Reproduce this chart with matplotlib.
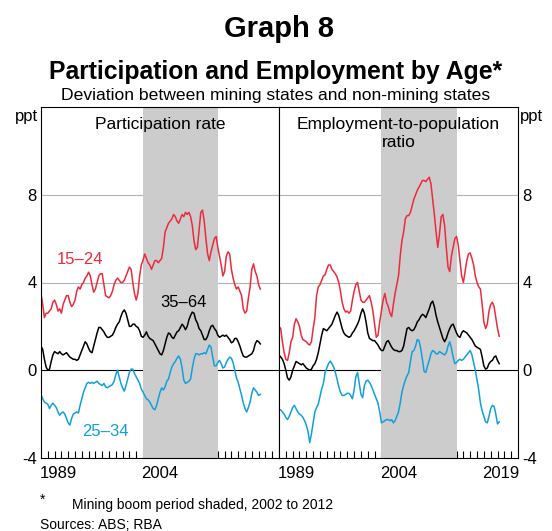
#!/usr/bin/env python3

"""
Graph 8: participation and employment by age, mining vs non-mining states.
"""

import numpy as np
import matplotlib
matplotlib.use("Agg")
import matplotlib.pyplot as plt

plt.rcParams['font.family'] = ['Liberation Sans', 'DejaVu Sans']
plt.rcParams['axes.unicode_minus'] = False

RED = '#ee2a3d'
BLUE = '#12a0dc'
SHADE = '#cccccc'

# quarterly observations, 1987 Q1 to 2019 Q2
years = np.arange(1987.0, 2019.5, 0.25)

# Participation rate (ppt deviation)
part_15_24 = [
    3.5, 3.0, 2.4, 2.6,
    2.6, 2.7, 2.8, 3.1,
    3.2, 3.0, 2.7, 2.8,
    2.6, 3.0, 3.2, 3.4,
    3.4, 3.1, 2.9, 3.0,
    3.2, 3.6, 3.8, 3.7,
    3.9, 4.0, 4.2, 4.3,
    4.47, 4.3, 3.9, 3.56,
    3.7, 4.0, 4.3, 4.4,
    4.4, 3.9, 3.4, 3.35,
    3.3, 3.4, 3.6, 3.9,
    4.1, 4.2, 4.1, 4.0,
    4.0, 4.1, 4.3, 4.5,
    4.7, 4.6, 4.0, 3.5,
    3.2, 3.5, 4.3, 4.8,
    5.0, 5.3, 5.1, 4.9,
    4.8, 4.6, 4.8, 5.0,
    5.0, 4.9, 5.0, 5.1,
    5.6, 6.3, 6.5, 6.7,
    6.8, 6.9, 7.1, 7.0,
    6.8, 6.7, 6.9, 7.1,
    7.0, 7.2, 7.1, 7.2,
    7.0, 6.6, 5.9, 5.5,
    5.6, 6.4, 7.2, 7.3,
    6.8, 6.0, 5.3, 5.0,
    5.4, 5.7, 6.0, 6.1,
    5.6, 5.2, 4.8, 4.3,
    4.5, 5.2, 5.4, 5.3,
    4.6, 4.2, 3.9, 3.7,
    3.8, 3.6, 3.4, 2.8,
    2.6, 2.7, 3.3, 3.8,
    4.6, 4.85, 4.5, 4.3,
    3.9, 3.7,
]
part_25_34 = [
    -1.1, -1.3, -1.45, -1.5,
    -1.55, -1.75, -1.6, -1.5,
    -1.6, -1.7, -1.9, -2.05,
    -1.95, -1.9, -2.0, -2.2,
    -2.4, -2.5, -2.2, -2.0,
    -1.95, -1.9, -1.95, -1.6,
    -1.3, -1.0, -0.8, -0.6,
    -0.55, -0.6, -0.55, -0.6,
    -0.55, -0.5, -0.6, -0.65,
    -0.7, -0.6, -0.75, -0.8,
    -0.75, -0.7, -0.65, -0.5,
    -0.2, 0.0, -0.3, -0.6,
    -0.8, -0.95, -0.7, -0.4,
    -0.1, 0.05, 0.05, -0.15,
    -0.3, -0.45, -0.6, -0.85,
    -1.0, -1.15, -1.3, -1.35,
    -1.45, -1.6, -1.75, -1.8,
    -1.6, -1.3, -1.0, -0.8,
    -0.9, -0.75, -0.5, -0.4,
    -0.1, 0.15, 0.3, 0.4,
    0.55, 0.65, 0.5, 0.1,
    -0.45, -0.6, -0.55, -0.5,
    -0.4, 0.1, 0.5, 0.75,
    0.75, 0.7, 0.75, 0.75,
    0.8, 0.75, 0.95, 1.15,
    1.05, 0.6, 0.2, 0.2,
    0.35, 0.45, 0.3, 0.1,
    0.15, 0.35, 0.5, 0.6,
    0.55, 0.35, 0.0, -0.35,
    -0.55, -0.85, -1.15, -1.5,
    -1.75, -1.9, -1.7, -1.45,
    -1.05, -0.8, -0.9, -1.0,
    -1.15, -1.1,
]
part_35_64 = [
    1.1, 0.95, 0.5, 0.15,
    0.0, 0.05, 0.4, 0.7,
    0.85, 0.8, 0.75, 0.85,
    0.75, 0.7, 0.75, 0.8,
    0.7, 0.6, 0.55, 0.5,
    0.5, 0.45, 0.5, 0.7,
    0.9, 1.1, 1.3, 1.2,
    1.0, 0.85, 0.8, 1.1,
    1.4, 1.7, 1.95, 1.95,
    1.85, 1.75, 1.6, 1.5,
    1.5, 1.55, 1.6, 1.75,
    1.95, 2.1, 2.2, 2.45,
    2.65, 2.75, 2.6, 2.3,
    2.0, 2.0, 2.1, 2.1,
    2.0, 1.95, 1.8, 1.55,
    1.5, 1.6, 1.75, 1.55,
    1.45, 1.4, 1.35, 1.2,
    1.05, 0.9, 0.75, 0.7,
    0.9, 1.2, 1.5, 1.7,
    1.65, 1.5, 1.45, 1.6,
    1.75, 1.8, 1.95, 2.1,
    2.0, 1.85, 2.0, 2.3,
    2.5, 2.65, 2.6, 2.3,
    2.15, 1.9, 1.8, 1.6,
    1.4, 1.4, 1.55, 1.8,
    2.0, 2.05, 1.9, 1.8,
    1.6, 1.5, 1.55, 1.6,
    1.55, 1.6, 1.5, 1.4,
    1.25, 1.3, 1.45, 1.45,
    1.3, 1.1, 0.85, 0.65,
    0.6, 0.6, 0.65, 0.7,
    0.75, 0.9, 1.2, 1.35,
    1.3, 1.2,
]

# Employment-to-population ratio (ppt deviation)
emp_15_24 = [
    2.0, 1.9, 1.3, 0.8,
    0.5, 0.45, 0.8, 1.3,
    1.5, 2.1, 2.35, 2.2,
    2.0, 1.6, 1.4, 1.35,
    1.3, 1.2, 1.15, 1.3,
    1.9, 2.4, 3.4, 3.8,
    3.9, 4.1, 4.3, 4.35,
    4.6, 4.8, 4.8, 4.6,
    4.5, 4.4, 4.25, 4.0,
    3.6, 3.1, 2.8, 2.65,
    2.7, 2.6, 2.7, 3.2,
    3.6, 3.9, 4.0, 3.6,
    3.2, 3.1, 3.1, 3.2,
    3.3, 3.4, 3.1, 2.7,
    2.1, 1.5, 1.6, 2.2,
    2.7, 3.2, 3.5, 3.1,
    2.9, 2.6, 2.45, 3.0,
    3.5, 3.9, 4.3, 5.2,
    5.9, 6.3, 6.9, 7.05,
    7.05, 7.2, 7.5, 7.8,
    8.0, 8.2, 8.35, 8.5,
    8.65, 8.65, 8.6, 8.7,
    8.8, 8.5, 7.8, 7.1,
    6.3, 5.6, 6.2, 7.0,
    7.1, 6.6, 5.6, 4.7,
    4.5, 5.2, 5.6, 6.0,
    6.1, 5.7, 5.0, 4.3,
    4.0, 4.5, 5.0, 5.3,
    5.35, 5.1, 4.8, 4.3,
    4.0, 3.8, 3.7, 3.0,
    2.2, 1.9, 2.1, 2.7,
    3.0, 3.1, 2.9, 2.4,
    1.9, 1.55,
]
emp_25_34 = [
    -1.8, -1.8, -1.9, -2.0,
    -2.15, -2.25, -2.1, -1.9,
    -1.7, -1.6, -1.75, -1.9,
    -2.0, -2.05, -2.15, -2.3,
    -2.5, -2.8, -3.3, -2.9,
    -2.4, -1.9, -1.7, -1.55,
    -1.2, -0.85, -0.6, -0.1,
    0.1, 0.3, 0.42, 0.3,
    0.15, -0.1, -0.4, -0.75,
    -1.0, -1.15, -1.15, -1.1,
    -1.05, -1.05, -1.15, -1.3,
    -0.9, -0.3, -0.1, -0.6,
    -1.1, -1.25, -0.7, -0.5,
    -0.45, -0.55, -0.7, -0.9,
    -1.1, -1.3, -1.5, -1.9,
    -2.4, -2.35, -2.3, -2.25,
    -2.25, -2.3, -2.25, -2.4,
    -2.3, -2.1, -1.9, -1.5,
    -1.0, -0.7, -0.45, -0.25,
    -0.1, 0.4, 0.85, 0.9,
    1.1, 1.4, 1.35, 1.0,
    0.5, -0.05, -0.1, 0.2,
    0.45, 0.75, 0.9, 0.85,
    0.75, 0.75, 0.85, 0.8,
    0.75, 0.7, 0.8, 1.1,
    1.3, 1.0, 0.6, 0.3,
    0.35, 0.45, 0.5, 0.45,
    0.5, 0.6, 0.7, 0.8,
    0.9, 0.7, 0.35, 0.0,
    -0.45, -0.9, -1.5, -1.85,
    -2.1, -2.35, -2.4, -2.1,
    -1.75, -1.6, -1.65, -2.0,
    -2.45, -2.35,
]
emp_35_64 = [
    0.7, 0.6, 0.5, 0.3,
    0.0, -0.35, -0.45, -0.3,
    0.0, 0.2, 0.4, 0.35,
    0.3, 0.25, 0.3, 0.2,
    0.1, 0.05, 0.0, 0.05,
    0.2, 0.3, 0.5, 0.8,
    1.2, 1.6, 1.9, 1.85,
    1.8, 1.9, 2.0, 2.1,
    2.3, 2.5, 2.65, 2.5,
    2.2, 1.9, 1.7, 1.6,
    1.55, 1.5, 1.55, 1.7,
    1.8, 1.95, 2.1, 2.3,
    2.6, 2.8, 2.6, 2.2,
    1.7, 1.45, 1.4, 1.35,
    1.35, 1.25, 1.15, 1.0,
    0.9, 0.9, 1.1, 1.3,
    1.35, 1.2, 1.05, 0.95,
    0.9, 0.9, 0.85, 0.85,
    0.9, 1.1, 1.5, 1.9,
    1.95, 1.85, 1.8, 1.85,
    2.0, 2.2, 2.3, 2.45,
    2.55, 2.5, 2.4, 2.6,
    2.8, 3.05, 3.15, 2.9,
    2.5, 2.2, 1.95, 1.7,
    1.45, 1.3, 1.45, 1.7,
    1.9, 2.05, 2.1, 1.9,
    1.7, 1.55, 1.5, 1.7,
    1.8, 1.75, 1.7, 1.6,
    1.5, 1.4, 1.25, 1.1,
    1.05, 1.0, 0.95, 0.6,
    0.2, 0.05, 0.1, 0.3,
    0.4, 0.45, 0.6, 0.65,
    0.45, 0.3,
]

boom = (2002, 2013)
yticks = [-4, 0, 4, 8]


def _panel(ax, title, series, xlabels, side):
    ax.set_xlim(1987, 2022)
    ax.set_ylim(-4, 12)

    ax.axvspan(*boom, color=SHADE, lw=0, zorder=2)
    for y in (4, 8):
        ax.axhline(y, color='#b3b3b3', lw=0.8, zorder=1)
    ax.axhline(0, color='black', lw=0.8, zorder=1)

    for values, colour in series:
        ax.plot(years, values, color=colour, lw=1.1, zorder=3)

    ax.text(0.5, 0.972, title, transform=ax.transAxes, ha='center', va='top',
            fontsize=12.5, linespacing=1.25, zorder=4)

    ax.set_yticks(yticks)
    ax.set_yticklabels([str(v) for v in yticks])
    ax.tick_params(axis='y', length=0, labelsize=12, pad=3)
    if side == 'right':
        ax.yaxis.tick_right()
        ax.text(1.006, 0.974, 'ppt', transform=ax.transAxes, ha='left',
                va='center', fontsize=12)
    else:
        ax.text(-0.012, 0.974, 'ppt', transform=ax.transAxes, ha='right',
                va='center', fontsize=12)

    ax.set_xticks([int(s) + 0.5 for s in xlabels])
    ax.set_xticklabels(xlabels)
    ax.set_xticks(np.arange(1988, 2022), minor=True)
    ax.tick_params(axis='x', which='major', length=0, labelsize=12, pad=6)
    ax.tick_params(axis='x', which='minor', direction='in', length=5,
                   width=0.8, color='black')

    for spine in ax.spines.values():
        spine.set_linewidth(0.8)
        spine.set_zorder(5)


fig = plt.figure(figsize=(5.52, 5.31), dpi=100)
ax_l = fig.add_axes([41 / 552, 73 / 531, 238 / 552, 351 / 531])
ax_r = fig.add_axes([279 / 552, 73 / 531, 239 / 552, 351 / 531])

_panel(ax_l, 'Participation rate',
       [(part_15_24, RED), (part_35_64, 'black'), (part_25_34, BLUE)],
       ['1989', '2004'], 'left')
_panel(ax_r, 'Employment-to-population\nratio',
       [(emp_15_24, RED), (emp_35_64, 'black'), (emp_25_34, BLUE)],
       ['1989', '2004', '2019'], 'right')

# series labels
ax_l.text(1992.7, 5.05, '15\u201324', color=RED, fontsize=12, ha='center', va='center', zorder=4)
ax_l.text(2008.0, 3.1, '35\u201364', color='black', fontsize=12, ha='center', va='center', zorder=4)
ax_l.text(1996.5, -2.8, '25\u201334', color=BLUE, fontsize=12, ha='center', va='center', zorder=4)

fig.text(0.505, 0.945, 'Graph 8', ha='center', va='center', fontsize=21, fontweight='bold')
fig.text(0.5, 0.864, 'Participation and Employment by Age*', ha='center', va='center',
         fontsize=17.8, fontweight='bold')
fig.text(0.5, 0.821, 'Deviation between mining states and non-mining states',
         ha='center', va='center', fontsize=12.6)

fig.text(0.072, 0.058, '*', ha='left', va='center', fontsize=10)
fig.text(0.13, 0.049, 'Mining boom period shaded, 2002 to 2012', ha='left', va='center',
         fontsize=10)
fig.text(0.072, 0.011, 'Sources: ABS; RBA', ha='left', va='center', fontsize=10)

fig.savefig('out.png', dpi=100)
plt.close(fig)
